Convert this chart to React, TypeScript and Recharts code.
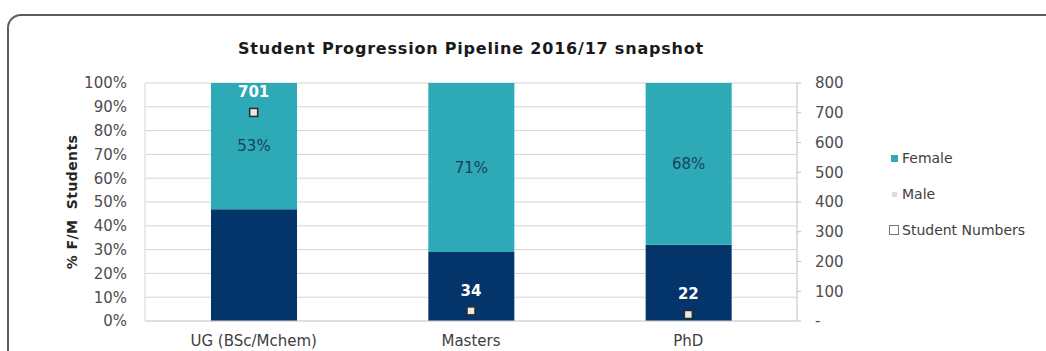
import React from 'react'
import {
  ComposedChart,
  Bar,
  Scatter,
  XAxis,
  YAxis,
  CartesianGrid,
  LabelList,
} from 'recharts'

const categories = ['UG (BSc/Mchem)', 'Masters', 'PhD']
const femalePct = [53, 71, 68]
const malePct = [47, 29, 32]
const studentNumbers = [701, 34, 22]
const pctTicks = [0, 10, 20, 30, 40, 50, 60, 70, 80, 90, 100]
const numTicks = [0, 100, 200, 300, 400, 500, 600, 700, 800]

const FEMALE = '#2ea9b6'
const MALE = '#03346a'
const FONT = 'DejaVu Sans, Verdana, sans-serif'

const chartData = categories.map((c, i) => ({
  name: c,
  female: femalePct[i],
  male: malePct[i],
  students: studentNumbers[i],
}))

const SquareMarker = (props: any) => {
  const { cx, cy } = props
  if (cx == null || cy == null) return null
  return <rect x={cx - 4} y={cy - 4} width={8} height={8} fill="#e8e8e8" stroke="#2b2b2b" strokeWidth={1.5} />
}

const NumberLabel = (props: any) => {
  const { x, y, width, height, value } = props
  const cx = x + (width || 0) / 2
  const cy = y + (height || 0) / 2
  return (
    <text x={cx} y={cy - 20} textAnchor="middle" dominantBaseline="central" fill="#ffffff" fontWeight="bold" fontSize={15} fontFamily={FONT}>
      {value}
    </text>
  )
}

const legendItems = [
  { label: 'Female', marker: <span style={{ display: 'inline-block', width: 7, height: 7, background: FEMALE }} /> },
  { label: 'Male', marker: <span style={{ display: 'inline-block', width: 5, height: 5, background: '#dcdcdc' }} /> },
  {
    label: 'Student Numbers',
    marker: <span style={{ display: 'inline-block', width: 8, height: 8, background: '#fff', border: '1px solid #777' }} />,
  },
]

export default function App() {
  return (
    <div style={{ position: 'fixed', left: 0, top: 0, width: 1046, height: 351, overflow: 'hidden', background: '#fff' }}>
      <div
        style={{
          position: 'absolute',
          left: 7,
          top: 14,
          width: 1100,
          height: 400,
          border: '2px solid #5c5c5c',
          borderRadius: 14,
          boxSizing: 'border-box',
        }}
      />
      <div
        style={{
          position: 'absolute',
          left: 0,
          top: 39,
          width: 942,
          textAlign: 'center',
          fontFamily: FONT,
          fontWeight: 'bold',
          fontSize: 16,
          letterSpacing: 0.8,
          color: '#1a1a1a',
        }}
      >
        Student Progression Pipeline 2016/17 snapshot
      </div>
      <div
        style={{
          position: 'absolute',
          left: 72,
          top: 202,
          transform: 'translate(-50%, -50%) rotate(-90deg)',
          fontFamily: FONT,
          fontWeight: 'bold',
          fontSize: 14,
          letterSpacing: 0.4,
          color: '#262626',
          whiteSpace: 'pre',
        }}
      >
        {'% F/M  Students'}
      </div>
      <div style={{ position: 'absolute', left: 0, top: 0 }}>
        <ComposedChart
          width={1046}
          height={351}
          data={chartData}
          margin={{ top: 83, right: 0, bottom: 0, left: 0 }}
        >
          <CartesianGrid vertical={false} stroke="#d4d4d4" yAxisId="pct" />
          <XAxis
            dataKey="name"
            height={30}
            tickLine={false}
            axisLine={{ stroke: '#d4d4d4' }}
            tick={{ fontSize: 15, fill: '#404040', fontFamily: FONT }}
            tickMargin={8}
          />
          <YAxis
            yAxisId="pct"
            width={145}
            domain={[0, 100]}
            ticks={pctTicks}
            interval={0}
            tickFormatter={(v: number) => `${v}%`}
            tickLine={false}
            tickMargin={12}
            axisLine={{ stroke: '#d4d4d4' }}
            tick={{ fontSize: 15, fill: '#4d4d4d', fontFamily: FONT }}
          />
          <YAxis
            yAxisId="num"
            orientation="right"
            width={249}
            domain={[0, 800]}
            ticks={numTicks}
            interval={0}
            tickFormatter={(v: number) => (v === 0 ? '-' : `${v}`)}
            tickSize={4}
            tickMargin={14}
            tickLine={{ stroke: '#bfbfbf' }}
            axisLine={{ stroke: '#bfbfbf' }}
            tick={{ fontSize: 15, fill: '#4d4d4d', fontFamily: FONT }}
          />
          <Bar dataKey="male" stackId="a" yAxisId="pct" fill={MALE} barSize={86} isAnimationActive={false} />
          <Bar dataKey="female" stackId="a" yAxisId="pct" fill={FEMALE} barSize={86} isAnimationActive={false}>
            <LabelList
              dataKey="female"
              position="center"
              formatter={(v: any) => `${v}%`}
              fill="#17435e"
              fontSize={15}
              fontFamily={FONT}
            />
          </Bar>
          <Scatter dataKey="students" yAxisId="num" shape={<SquareMarker />} isAnimationActive={false}>
            <LabelList dataKey="students" content={<NumberLabel />} />
          </Scatter>
        </ComposedChart>
      </div>
      <div style={{ position: 'absolute', left: 886, top: 140, fontFamily: FONT, fontSize: 14, color: '#404040' }}>
        {legendItems.map((it) => (
          <div key={it.label} style={{ display: 'flex', alignItems: 'center', height: 36 }}>
            <span style={{ width: 16, display: 'inline-flex', alignItems: 'center', justifyContent: 'center' }}>{it.marker}</span>
            <span>{it.label}</span>
          </div>
        ))}
      </div>
    </div>
  )
}
